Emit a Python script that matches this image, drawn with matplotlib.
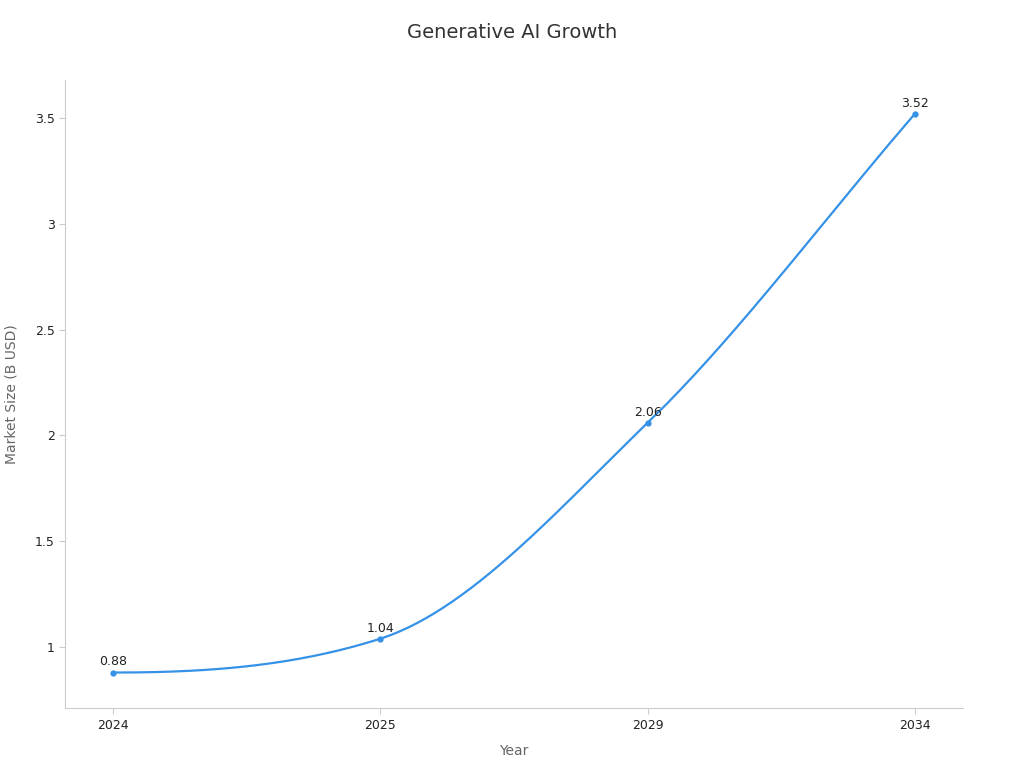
import numpy as np
import matplotlib
matplotlib.use("Agg")
import matplotlib.pyplot as plt

years = ["2024", "2025", "2029", "2034"]
values = [0.88, 1.04, 2.06, 3.52]

color = "#3592e6"
fig = plt.figure(figsize=(10.24, 7.68), dpi=100)
ax = fig.add_axes([0.0635, 0.078, 0.877, 0.818])

x = np.arange(len(values), dtype=float)
y = np.array(values)
# geometric-mean tangents for smooth curve drawing
d = np.diff(y)
m = np.zeros_like(y)
m[1:-1] = np.sqrt(d[:-1] * d[1:])
m[-1] = d[-1]
xs, ys = [], []
for i in range(len(x) - 1):
    t = np.linspace(0, 1, 60)
    h00 = 2*t**3 - 3*t**2 + 1
    h10 = t**3 - 2*t**2 + t
    h01 = -2*t**3 + 3*t**2
    h11 = t**3 - t**2
    xs.append(x[i] + t)
    ys.append(h00*y[i] + h10*m[i] + h01*y[i+1] + h11*m[i+1])
ax.plot(np.concatenate(xs), np.concatenate(ys), color=color, lw=1.6)
ax.plot(x, y, "o", color=color, ms=3.5)
for xi, yi in zip(x, y):
    ax.annotate(f"{yi:.2f}", (xi, yi), xytext=(0, 3), textcoords="offset points",
                ha="center", va="bottom", fontsize=9, color="#222222")

ax.set_xlim(-0.18, 3.18)
ax.set_ylim(0.712, 3.68)
ax.set_xticks(x)
ax.set_xticklabels(years)
ax.set_yticks([1, 1.5, 2, 2.5, 3, 3.5])
ax.set_yticklabels(["1", "1.5", "2", "2.5", "3", "3.5"])
ax.tick_params(labelsize=9, colors="#cccccc", labelcolor="#222222", length=4)
for s in ["top", "right"]:
    ax.spines[s].set_visible(False)
for s in ["left", "bottom"]:
    ax.spines[s].set_color("#cccccc")
ax.set_xlabel("Year", fontsize=10, color="#666666", labelpad=9)
ax.set_ylabel("Market Size (B USD)", fontsize=10, color="#666666", labelpad=12)
fig.suptitle("Generative AI Growth", fontsize=14, color="#333333", y=0.97)
fig.savefig("out.png", dpi=100)
